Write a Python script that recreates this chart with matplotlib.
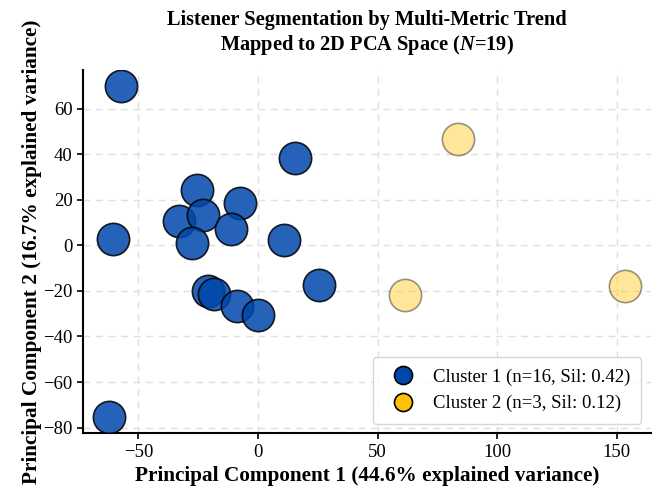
import numpy as np
import matplotlib
matplotlib.use("Agg")
import matplotlib.pyplot as plt
from matplotlib.lines import Line2D

plt.rcParams['font.family'] = ['Liberation Serif', 'DejaVu Serif']
plt.rcParams['mathtext.fontset'] = 'custom'
plt.rcParams['mathtext.rm'] = 'Liberation Serif'
plt.rcParams['mathtext.it'] = 'Liberation Serif:italic:bold'
plt.rcParams['mathtext.bf'] = 'Liberation Serif:bold'

# PCA coordinates
c1_x = [-57.5, 15.4, -25.6, -7.7, -32.9, -22.9, -11.1, -60.5, -27.8, 10.8,
        25.5, -20.8, -18.3, -8.6, 0.1, -62.5]
c1_y = [69.9, 38.4, 24.2, 18.5, 10.6, 13.5, 7.3, 3.0, 1.2, 2.6,
        -17.6, -20.1, -21.3, -26.6, -30.4, -75.2]
c2_x = [83.5, 61.5, 153.5]
c2_y = [46.6, -21.8, -17.7]

labels = ['Cluster 1 (n=16, Sil: 0.42)', 'Cluster 2 (n=3, Sil: 0.12)']
colors = ['#0047AB', '#FFC107']
alphas = [0.85, 0.4]
pc1_var = 44.6
pc2_var = 16.7

fig = plt.figure(figsize=(6.52, 4.95), dpi=100)
ax = fig.add_axes([0.127, 0.125, 0.871, 0.734])

groups = [(c1_x, c1_y), (c2_x, c2_y)]
for (gx, gy), col, a in zip(groups, colors, alphas):
    ax.scatter(gx, gy, s=540, c=col, alpha=a, edgecolors='black', linewidths=1.2, zorder=3)

ax.grid(True, linestyle='--', color='#e0e0e0', linewidth=1.0, dashes=(5, 4), zorder=0)
ax.set_axisbelow(True)
for side in ['top', 'right']:
    ax.spines[side].set_visible(False)
for side in ['left', 'bottom']:
    ax.spines[side].set_linewidth(1.5)

ax.tick_params(labelsize=13.5, width=1.2, length=4)
ax.set_xlabel('Principal Component 1 ({:.1f}% explained variance)'.format(pc1_var),
              fontsize=15.3, fontweight='bold', labelpad=4)
ax.set_ylabel('Principal Component 2 ({:.1f}% explained variance)'.format(pc2_var),
              fontsize=15.3, fontweight='bold', labelpad=1)
ax.set_title('Listener Segmentation by Multi-Metric Trend\nMapped to 2D PCA Space ($\\mathit{N}$=19)',
             fontsize=14.7, fontweight='bold', pad=14)

handles = [Line2D([0], [0], marker='o', linestyle='', markersize=13,
                  markerfacecolor=c, markeredgecolor='black', markeredgewidth=1.2)
           for c in colors]
ax.legend(handles, labels, loc='lower right', fontsize=13.5, frameon=True,
          edgecolor='#cccccc', borderpad=0.6, labelspacing=0.5, handletextpad=0.6)

fig.savefig('out.png', dpi=100)
